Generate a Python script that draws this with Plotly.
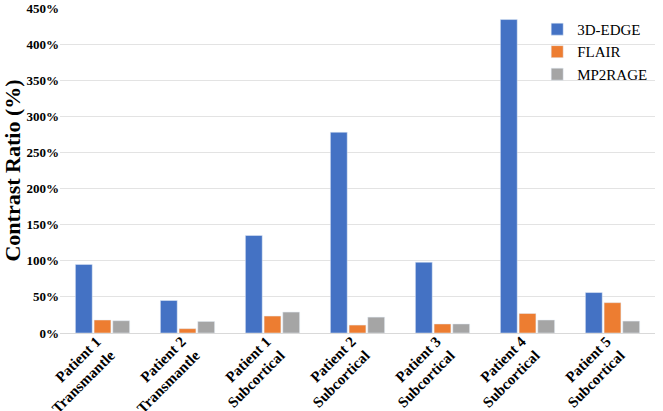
import plotly.graph_objects as go

categories = ["Patient 1<br>Transmantle", "Patient 2<br>Transmantle", "Patient 1<br>Subcortical",
              "Patient 2<br>Subcortical", "Patient 3<br>Subcortical", "Patient 4<br>Subcortical",
              "Patient 5<br>Subcortical"]
edge_3d = [95, 45, 135, 278, 98, 434, 56]
flair = [18, 6, 23.5, 11, 12.5, 27, 42]
mp2rage = [17, 16, 29, 22, 12.5, 18, 16.5]
y_ticks = list(range(0, 451, 50))
y_tick_labels = [f"{v}%" for v in y_ticks]

serif = "Liberation Serif"
fig = go.Figure()
fig.add_trace(go.Bar(x=categories, y=edge_3d, name="3D-EDGE", marker_color="#4472C4"))
fig.add_trace(go.Bar(x=categories, y=flair, name="FLAIR", marker_color="#ED7D31"))
fig.add_trace(go.Bar(x=categories, y=mp2rage, name="MP2RAGE", marker_color="#A5A5A5"))

fig.update_layout(
    width=663, height=411,
    margin=dict(l=60, r=8, t=8, b=78),
    paper_bgcolor="white", plot_bgcolor="white",
    barmode="group", bargap=0.34, bargroupgap=0.1,
    font=dict(family=serif, color="black"),
    legend=dict(x=0.802, y=0.985, xanchor="left", yanchor="top",
                font=dict(family=serif, size=15, color="black"),
                bgcolor="rgba(0,0,0,0)", tracegroupgap=0, itemwidth=30),
    showlegend=True,
)
fig.update_xaxes(tickangle=-45, tickfont=dict(family=serif, size=15, color="black", weight="bold"),
                 showline=True, linecolor="#d9d9d9", linewidth=1, ticks="", showgrid=False,
                 ticklabelstandoff=-7, ticklabelshift=-6,
                 automargin=False)
fig.update_yaxes(range=[0, 450], tickvals=y_ticks, ticktext=y_tick_labels,
                 tickfont=dict(family=serif, size=13, color="black", weight="bold"),
                 showgrid=True, gridcolor="#e3e3e3", gridwidth=1, zeroline=False,
                 title=dict(text="Contrast Ratio (%)", font=dict(family=serif, size=22, color="black", weight="bold"), standoff=4),
                 showline=False, automargin=False)

fig.write_html("out.html", config={"displayModeBar": False},
               post_script="document.body.style.margin='0';document.body.style.overflow='hidden';")
